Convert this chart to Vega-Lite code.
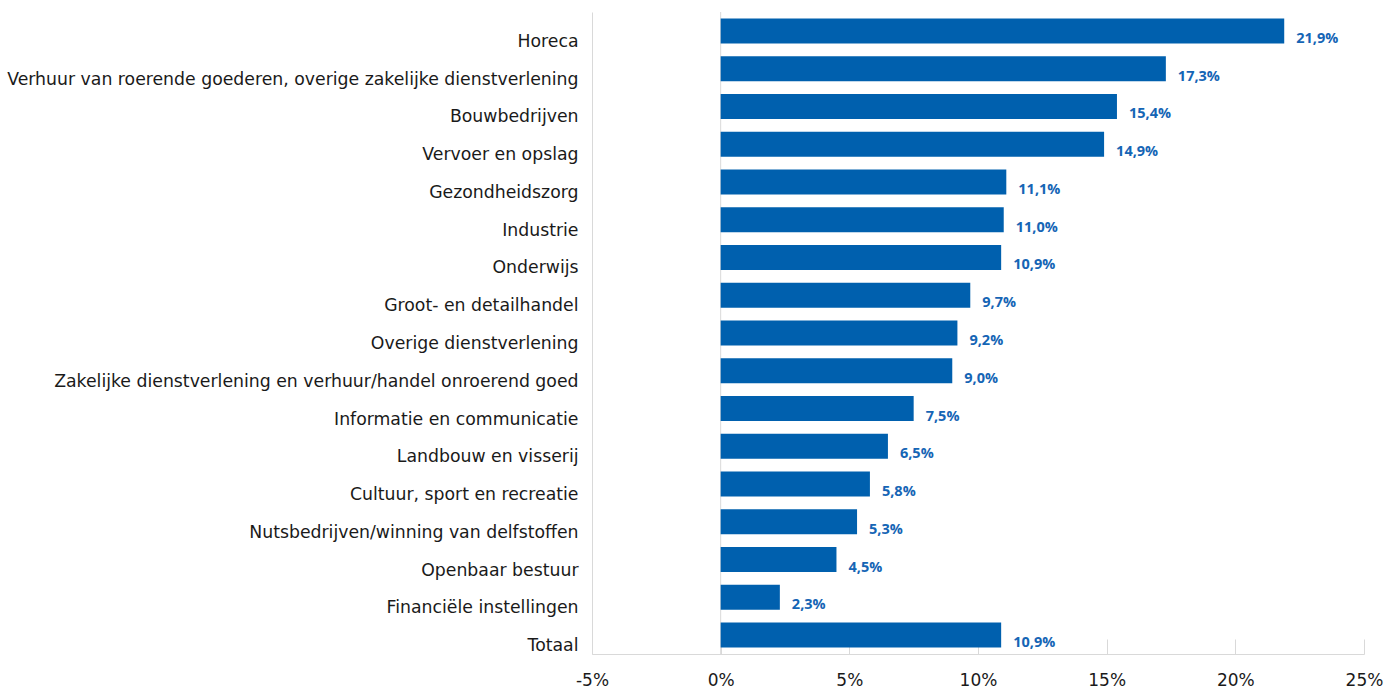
{
  "$schema": "https://vega.github.io/schema/vega-lite/v6.json",
  "width": 772,
  "height": 642,
  "autosize": {"type": "none"},
  "padding": {"left": 592, "top": 12, "right": 33, "bottom": 34},
  "background": "white",
  "config": {
    "view": {"stroke": null},
    "locale": {"number": {"decimal": ",", "thousands": ".", "grouping": [3], "currency": ["€", ""], "minus": "-"}},
    "font": "DejaVu Sans"
  },
  "data": {
    "values": [
      {"sector": "Horeca", "value": 0.219},
      {"sector": "Verhuur van roerende goederen, overige zakelijke dienstverlening", "value": 0.173},
      {"sector": "Bouwbedrijven", "value": 0.154},
      {"sector": "Vervoer en opslag", "value": 0.149},
      {"sector": "Gezondheidszorg", "value": 0.111},
      {"sector": "Industrie", "value": 0.110},
      {"sector": "Onderwijs", "value": 0.109},
      {"sector": "Groot- en detailhandel", "value": 0.097},
      {"sector": "Overige dienstverlening", "value": 0.092},
      {"sector": "Zakelijke dienstverlening en verhuur/handel onroerend goed", "value": 0.090},
      {"sector": "Informatie en communicatie", "value": 0.075},
      {"sector": "Landbouw en visserij", "value": 0.065},
      {"sector": "Cultuur, sport en recreatie", "value": 0.058},
      {"sector": "Nutsbedrijven/winning van delfstoffen", "value": 0.053},
      {"sector": "Openbaar bestuur", "value": 0.045},
      {"sector": "Financiële instellingen", "value": 0.023},
      {"sector": "Totaal", "value": 0.109}
    ]
  },
  "encoding": {
    "y": {
      "field": "sector",
      "type": "nominal",
      "sort": null,
      "title": null,
      "scale": {"paddingInner": 0.338, "paddingOuter": 0.17},
      "axis": {
        "domainColor": "#d9d9d9",
        "ticks": false,
        "labelPadding": 14,
        "labelOffset": 11,
        "labelFontSize": 17.3,
        "labelColor": "#1a1a1a",
        "labelLimit": 700,
        "labelFont": "DejaVu Sans"
      }
    }
  },
  "layer": [
    {
      "mark": {"type": "rule", "color": "#d9d9d9", "strokeWidth": 1},
      "data": {"values": [{"zero": 0}]},
      "encoding": {"x": {"field": "zero", "type": "quantitative", "scale": {"domain": [-0.05, 0.25]}}, "y": null}
    },
    {
      "mark": {"type": "bar", "color": "#0060AE"},
      "encoding": {
        "x": {
          "field": "value",
          "type": "quantitative",
          "title": null,
          "scale": {"domain": [-0.05, 0.25], "nice": false},
          "axis": {
            "values": [-0.05, 0, 0.05, 0.1, 0.15, 0.2, 0.25],
            "format": ".0%",
            "grid": false,
            "labelFlush": false,
            "domainColor": "#d9d9d9",
            "tickColor": "#d9d9d9",
            "tickSize": -15,
            "labelPadding": 33,
            "labelFontSize": 17,
            "labelColor": "#1a1a1a",
            "labelFont": "DejaVu Sans"
          }
        }
      }
    },
    {
      "mark": {"type": "text", "align": "left", "baseline": "middle", "dx": 12, "dy": 8, "fontSize": 14.5, "fontWeight": "bold", "color": "#1565B5", "font": "Open Sans"},
      "encoding": {
        "x": {"field": "value", "type": "quantitative"},
        "text": {"field": "value", "type": "quantitative", "format": ".1%"}
      }
    }
  ]
}
